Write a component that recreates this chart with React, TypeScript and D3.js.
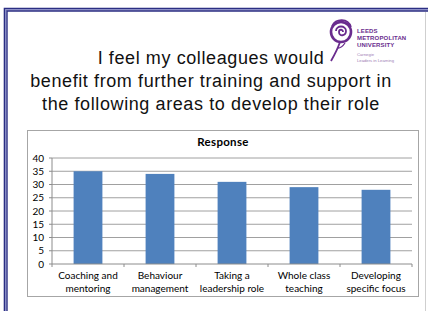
import React from 'react';
import * as d3 from 'd3';

const WIDTH = 428;
const HEIGHT = 311;
const PLOT = { left: 52, right: 412, top: 158, bottom: 264 };
const BAR_COLOR = '#4f81bd';
const FRAME = '#2b2e83';
const PURPLE = '#6a2c8e';

const CATEGORIES = [
    ['Coaching and', 'mentoring'],
    ['Behaviour', 'management'],
    ['Taking a', 'leadership role'],
    ['Whole class', 'teaching'],
    ['Developing', 'specific focus'],
];
const VALUES = [35, 34, 31, 29, 28];
const Y_TICKS = [0, 5, 10, 15, 20, 25, 30, 35, 40];
const TITLE_LINES = [
    'I feel my colleagues would',
    'benefit from further training and support in',
    'the following areas to develop their role',
];
const LOGO_LINES = ['LEEDS', 'METROPOLITAN', 'UNIVERSITY'];
const LOGO_SUB = ['Carnegie', 'Leaders in Learning'];

export default function App() {
    const x = d3.scaleBand<number>()
        .domain(d3.range(VALUES.length))
        .range([PLOT.left, PLOT.right])
        .paddingInner(0.6)
        .paddingOuter(0.3);
    const step = (PLOT.right - PLOT.left) / VALUES.length;
    const y = d3.scaleLinear().domain([0, 40]).range([PLOT.bottom, PLOT.top]);
    const chartFont = 'Lato, "Open Sans", sans-serif';

    return (
        <svg width={WIDTH} height={HEIGHT} style={{ position: 'absolute', left: 0, top: 0, background: '#fff' }}>
            {/* slide frame */}
            <path d={`M4.5,${HEIGHT} V8.5 H${WIDTH}`} fill="none" stroke={FRAME} strokeWidth={1.6} />
            <path d={`M5.8,${HEIGHT} V9.8 H${WIDTH}`} fill="none" stroke="#7b7fc0" strokeWidth={1.2} />
            <path d={`M7,${HEIGHT} V11 H${WIDTH}`} fill="none" stroke={FRAME} strokeWidth={1.4} />
            <line x1={425.5} y1={12} x2={425.5} y2={HEIGHT} stroke="#cfcfcf" strokeWidth={1} />

            {/* heading */}
            {TITLE_LINES.map((t, i) => (
                <text key={i} x={211} y={64 + i * 23} textAnchor="middle" letterSpacing={0.6}
                    fontFamily='"Liberation Sans", Arial, sans-serif' fontSize={18} fill="#111">{t}</text>
            ))}

            {/* logo */}
            <g transform="translate(341,32)" fill="none" stroke={PURPLE}>
                <circle r={10} strokeWidth={2.6} />
                <path d="M-5,-1 C-5,-7 5,-7 5,-1 C5,4 -2,5 -2,0 C-2,-3 2,-3 2,0" strokeWidth={1.8} />
                <path d="M-9,-6 C-5,-14 7,-14 10,-5" strokeWidth={1.6} />
                <path d="M-1,10 C-3,16 -6,22 -10,29" strokeWidth={1.8} />
                <path d="M-3,16 C0,16 2,14 4,11" strokeWidth={1.3} />
            </g>
            <g fontFamily='"Liberation Sans", Arial, sans-serif' fill={PURPLE}>
                {LOGO_LINES.map((t, i) => (
                    <text key={t} x={357} y={33 + i * 7} fontSize={6} fontWeight="bold" letterSpacing={0.15}>{t}</text>
                ))}
                {LOGO_SUB.map((t, i) => (
                    <text key={t} x={357} y={56 + i * 6} fontSize={4.2} fill="#9b7bb3">{t}</text>
                ))}
            </g>

            {/* chart box */}
            <rect x={27.5} y={130.5} width={391} height={166} fill="#fff" stroke="#a6a6a6" strokeWidth={1} />
            <text x={223} y={145.5} textAnchor="middle" fontFamily={chartFont} fontWeight="bold" fontSize={11.5} letterSpacing={0.3} fill="#000">Response</text>

            {/* gridlines and y axis */}
            {Y_TICKS.map(t => (
                <g key={t}>
                    {t > 0 && <line x1={PLOT.left} x2={PLOT.right} y1={y(t)} y2={y(t)} stroke="#a0a0a0" strokeWidth={1} />}
                    <line x1={PLOT.left - 3} x2={PLOT.left} y1={y(t)} y2={y(t)} stroke="#8c8c8c" strokeWidth={1} />
                    <text x={PLOT.left - 8} y={y(t)} dy="0.35em" textAnchor="end" fontFamily={chartFont} fontSize={10} fill="#000">{t}</text>
                </g>
            ))}
            <line x1={PLOT.left} x2={PLOT.left} y1={PLOT.top} y2={PLOT.bottom} stroke="#8c8c8c" strokeWidth={1} />

            {/* bars */}
            {VALUES.map((v, i) => (
                <rect key={i} x={x(i)} y={y(v)} width={x.bandwidth()} height={PLOT.bottom - y(v)} fill={BAR_COLOR} />
            ))}

            {/* x axis */}
            <line x1={PLOT.left} x2={PLOT.right} y1={PLOT.bottom} y2={PLOT.bottom} stroke="#8c8c8c" strokeWidth={1} />
            {d3.range(VALUES.length + 1).map(i => (
                <line key={i} x1={PLOT.left + i * step} x2={PLOT.left + i * step} y1={PLOT.bottom} y2={PLOT.bottom + 3} stroke="#8c8c8c" strokeWidth={1} />
            ))}
            {CATEGORIES.map((lines, i) => (
                <text key={i} textAnchor="middle" fontFamily={chartFont} fontSize={10} fill="#000">
                    {lines.map((l, j) => (
                        <tspan key={j} x={(x(i) as number) + x.bandwidth() / 2} y={279 + j * 12.5}>{l}</tspan>
                    ))}
                </text>
            ))}
        </svg>
    );
}
